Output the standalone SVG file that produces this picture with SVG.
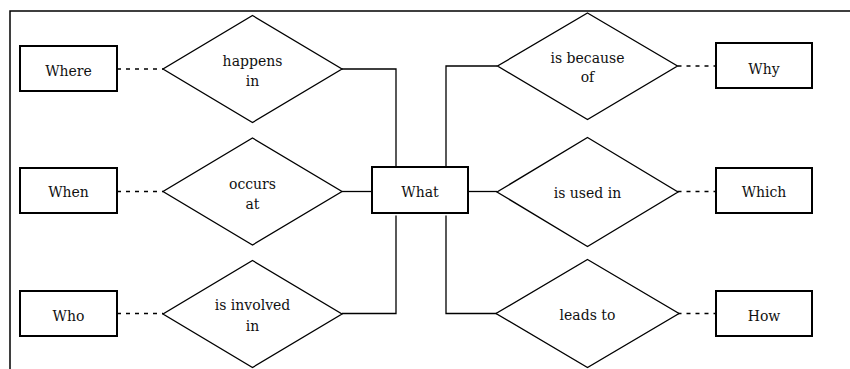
<svg xmlns="http://www.w3.org/2000/svg" width="850" height="369" viewBox="0 0 850 369">
  <style>
    .frame { fill: none; stroke: #000; stroke-width: 1.5; }
    .box { fill: #fff; stroke: #000; stroke-width: 2; }
    .rel { fill: #fff; stroke: #000; stroke-width: 1.3; }
    .link { fill: none; stroke: #000; stroke-width: 1.3; }
    .dot { fill: none; stroke: #000; stroke-width: 1.3; stroke-dasharray: 4 5; }
    .lbl { font-family: "DejaVu Serif", serif; font-size: 14px; fill: #111; text-anchor: middle; }
  </style>
  <rect width="850" height="369" fill="#fff"/>
  <path class="frame" d="M10,369 V11 H850"/>

  <g id="connectors">
    <path class="link" d="M342,69 H396 V167"/>
    <path class="link" d="M342,191.5 H372"/>
    <path class="link" d="M396,215.5 V313.5 H342"/>
    <path class="link" d="M446,167 V66 H497.5"/>
    <path class="link" d="M468,191.5 H497"/>
    <path class="link" d="M446,215.5 V313.5 H497"/>
    <path class="dot" d="M117,69 H163"/>
    <path class="dot" d="M117,191.5 H163"/>
    <path class="dot" d="M117,313.5 H163"/>
    <path class="dot" d="M677.5,66 H716"/>
    <path class="dot" d="M677.5,191.5 H716"/>
    <path class="dot" d="M677.5,313.5 H716"/>
  </g>

  <g id="what">
    <rect class="box" x="372" y="167" width="96" height="46"/>
    <text class="lbl" x="420" y="196.5">What</text>
  </g>

  <g id="where">
    <rect class="box" x="20" y="46" width="97" height="45"/>
    <text class="lbl" x="68.5" y="76">Where</text>
  </g>
  <g id="when">
    <rect class="box" x="20" y="168" width="97" height="45"/>
    <text class="lbl" x="68.5" y="197">When</text>
  </g>
  <g id="who">
    <rect class="box" x="20" y="291" width="97" height="45"/>
    <text class="lbl" x="68.5" y="320.5">Who</text>
  </g>

  <g id="why">
    <rect class="box" x="716" y="43" width="96" height="45"/>
    <text class="lbl" x="764" y="73.5">Why</text>
  </g>
  <g id="which">
    <rect class="box" x="716" y="168" width="96" height="45"/>
    <text class="lbl" x="764" y="196.5">Which</text>
  </g>
  <g id="how">
    <rect class="box" x="716" y="291" width="96" height="45"/>
    <text class="lbl" x="764" y="320.5">How</text>
  </g>

  <g id="happens-in">
    <polygon class="rel" points="252.5,15.5 342,69 252.5,122.5 163,69"/>
    <text class="lbl" x="252.5" y="66">happens</text>
    <text class="lbl" x="252.5" y="86">in</text>
  </g>
  <g id="occurs-at">
    <polygon class="rel" points="252.5,138 342,191.5 252.5,245 163,191.5"/>
    <text class="lbl" x="252.5" y="188.5">occurs</text>
    <text class="lbl" x="252.5" y="208.5">at</text>
  </g>
  <g id="is-involved-in">
    <polygon class="rel" points="252.5,260.5 342,314 252.5,367.5 163,314"/>
    <text class="lbl" x="252.5" y="309.5">is involved</text>
    <text class="lbl" x="252.5" y="330.5">in</text>
  </g>

  <g id="is-because-of">
    <polygon class="rel" points="587.5,13 677.5,66 587.5,119.5 497.5,66"/>
    <text class="lbl" x="587.5" y="63">is because</text>
    <text class="lbl" x="587.5" y="82">of</text>
  </g>
  <g id="is-used-in">
    <polygon class="rel" points="587.5,137.5 678,192 587.5,246.5 497,192"/>
    <text class="lbl" x="587.5" y="197.5">is used in</text>
  </g>
  <g id="leads-to">
    <polygon class="rel" points="587.5,259.5 679,313.5 587.5,367.5 496,313.5"/>
    <text class="lbl" x="587.5" y="320">leads to</text>
  </g>
</svg>
